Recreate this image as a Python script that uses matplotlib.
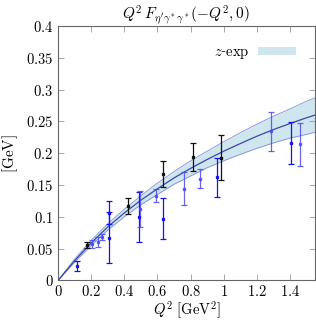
import matplotlib
matplotlib.use("Agg")
import matplotlib.pyplot as plt
from matplotlib.ticker import FuncFormatter, MultipleLocator
from matplotlib.patches import Patch
import numpy as np

plt.rcParams['mathtext.fontset'] = 'cm'
plt.rcParams['font.family'] = ['DejaVu Serif']

# z-expansion fit band
band_q2 = [0.0, 0.1, 0.2, 0.3, 0.4, 0.5, 0.6, 0.7, 0.8, 0.9, 1.0, 1.1, 1.2, 1.3, 1.4, 1.5, 1.6]
band_mid = [0.0, 0.031, 0.059, 0.084, 0.106, 0.126, 0.144, 0.161, 0.176, 0.190, 0.203,
            0.215, 0.2265, 0.237, 0.2465, 0.2555, 0.264]
band_half = [0.0, 0.0025, 0.004, 0.005, 0.006, 0.007, 0.009, 0.010, 0.012, 0.013, 0.015,
             0.017, 0.019, 0.021, 0.023, 0.026, 0.028]

# lattice points (darker blue)
dark_q2 = [0.111, 0.31, 0.305, 0.49, 0.634, 0.959, 1.408]
dark_val = [0.022, 0.067, 0.106, 0.100, 0.097, 0.162, 0.2155]
dark_err = [0.008, 0.040, 0.018, 0.039, 0.032, 0.031, 0.033]

# lattice points (lighter blue)
light_q2 = [0.206, 0.24, 0.266, 0.492, 0.59, 0.76, 0.858, 1.284, 1.463]
light_val = [0.0575, 0.060, 0.0686, 0.112, 0.133, 0.144, 0.160, 0.234, 0.2138]
light_err = [0.006, 0.0075, 0.0045, 0.028, 0.010, 0.026, 0.015, 0.030, 0.034]

# experimental points (black)
exp_q2 = [0.177, 0.419, 0.631, 0.814, 0.983]
exp_val = [0.056, 0.117, 0.167, 0.1945, 0.193]
exp_err = [0.005, 0.012, 0.021, 0.022, 0.035]

fig = plt.figure(figsize=(3.16, 3.20), dpi=100)
ax = fig.add_axes([0.184, 0.124, 0.812, 0.795])

q = np.array(band_q2)
m = np.array(band_mid)
h = np.array(band_half)
ax.fill_between(q, m - h, m + h, color='#cfe6ee', lw=0, zorder=1)
ax.plot(q, m + h, color='#7f8fd8', lw=0.6, zorder=2)
ax.plot(q, m - h, color='#7f8fd8', lw=0.6, zorder=2)
ax.plot(q, m, color='#3a48a8', lw=0.9, zorder=3)

ekw = dict(fmt='s', ms=1.4, capsize=2.4, elinewidth=0.9, capthick=0.9, zorder=4)
ax.errorbar(dark_q2, dark_val, yerr=dark_err, color='#1414f0', **ekw)
ax.errorbar(light_q2, light_val, yerr=light_err, color='#4a4af2', alpha=0.85, **ekw)
ax.errorbar(exp_q2, exp_val, yerr=exp_err, color='#111111', **ekw)

ax.set_xlim(0, 1.55)
ax.set_ylim(0, 0.4)
ax.xaxis.set_major_locator(MultipleLocator(0.2))
ax.yaxis.set_major_locator(MultipleLocator(0.05))
fmt = FuncFormatter(lambda v, p: '$%g$' % round(v, 3))
ax.xaxis.set_major_formatter(fmt)
ax.yaxis.set_major_formatter(fmt)
ax.tick_params(direction='in', top=True, right=True, length=4, width=0.6,
               color='#999999', labelsize=10.5, pad=3.5)
ax.tick_params(axis='x', pad=3)
for s in ax.spines.values():
    s.set_color('#666666')
    s.set_linewidth(0.8)

ax.set_xlabel(r'$Q^2\ [\mathrm{GeV}^2]$', fontsize=10.5, labelpad=0)
ax.set_ylabel(r'$[\mathrm{GeV}]$', fontsize=11, labelpad=4)
ax.set_title(r"$Q^2\,F_{\eta'\gamma^*\gamma^*}(-Q^2,0)$", fontsize=11, pad=5)

leg = ax.legend([Patch(facecolor='#cfe6ee', edgecolor='none')], [r'$z$-$\mathrm{exp}$'],
                loc='upper right', frameon=False, markerfirst=False, fontsize=10.5,
                handlelength=2.6, handleheight=0.5, borderaxespad=0.9, handletextpad=0.6)

fig.savefig('out.png', dpi=100)
